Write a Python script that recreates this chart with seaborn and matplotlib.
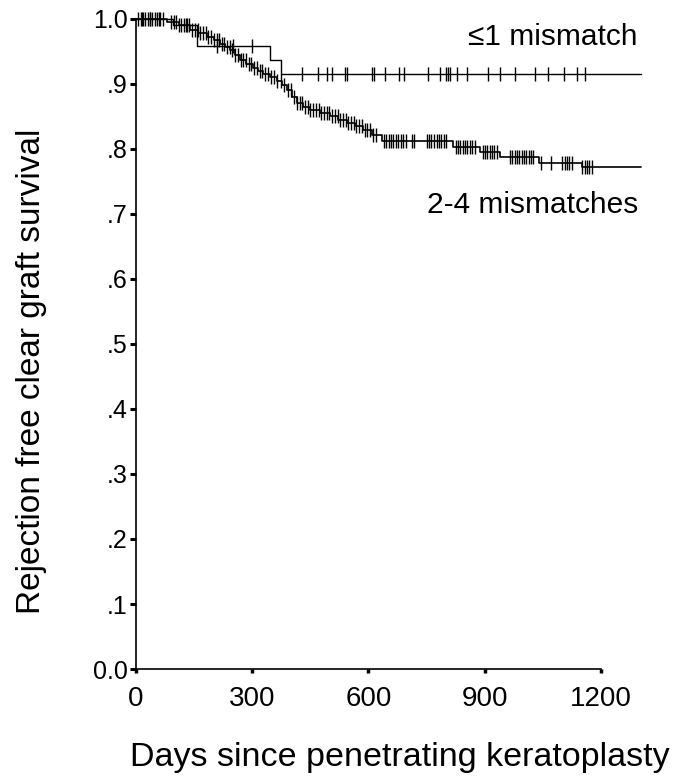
import numpy as np
import pandas as pd
import matplotlib
matplotlib.use("Agg")
import matplotlib.pyplot as plt
import seaborn as sns

# step curves (day, survival after the step)
days_low = [0, 95, 157, 346, 373]
surv_low = [1.0, 0.99, 0.959, 0.937, 0.915]
cens_low = [15, 35, 60, 130, 210, 250, 300, 429, 470, 494, 507, 539, 545, 608, 614,
            642, 680, 691, 754, 785, 799, 804, 810, 829, 855, 909, 939, 978, 1030,
            1064, 1105, 1137, 1160]
end_low = 1303

days_high = [0, 80, 110, 139, 160, 182, 200, 217, 230, 243, 256, 268, 285, 303, 316,
             329, 346, 363, 376, 389, 402, 415, 432, 449, 475, 501, 522, 544, 565,
             587, 608, 635, 819, 888, 939, 1040, 1150]
surv_high = [1.0, 0.995, 0.99, 0.983, 0.978, 0.973, 0.967, 0.962, 0.957, 0.952, 0.945,
             0.937, 0.930, 0.924, 0.920, 0.916, 0.910, 0.904, 0.898, 0.891, 0.880,
             0.870, 0.865, 0.860, 0.855, 0.850, 0.845, 0.840, 0.835, 0.829, 0.822,
             0.812, 0.803, 0.796, 0.787, 0.779, 0.772]
cens_high = [6, 12, 18, 24, 30, 36, 42, 48, 55, 62, 69, 90, 97, 103, 110, 117, 124, 131,
             138, 145, 152, 159, 166, 173, 180, 187, 194, 201, 208, 214, 221, 228, 235,
             242, 249, 256, 263, 270, 277, 284, 291, 298, 305, 312, 319, 326, 333, 340,
             348, 356, 364, 373, 382, 392, 401, 408, 415, 422, 429, 436, 443, 450, 457,
             464, 471, 478, 485, 492, 499, 506, 513, 520, 527, 534, 541, 548, 555, 562,
             569, 576, 583, 590, 597, 604, 612, 620, 640, 646, 652, 658, 664, 670, 676,
             683, 690, 697, 712, 718, 750, 756, 762, 770, 776, 782, 788, 794, 800, 825,
             831, 837, 843, 849, 855, 861, 867, 876, 895, 901, 907, 913, 919, 925, 931,
             965, 971, 977, 983, 989, 995, 1001, 1007, 1013, 1019, 1025, 1045, 1070,
             1100, 1106, 1112, 1118, 1124, 1150, 1158, 1164, 1170, 1176]
end_high = 1303

y_ticks = [0.0, 0.1, 0.2, 0.3, 0.4, 0.5, 0.6, 0.7, 0.8, 0.9, 1.0]
y_labels = ["0.0", ".1", ".2", ".3", ".4", ".5", ".6", ".7", ".8", ".9", "1.0"]
x_ticks = [0, 300, 600, 900, 1200]


def curve_frame(days, surv, end):
    return pd.DataFrame({"day": days + [end], "surv": surv + [surv[-1]]})


def censor_frame(days, surv, cens):
    idx = np.searchsorted(days, cens, side="right") - 1
    return pd.DataFrame({"day": cens, "surv": np.array(surv)[idx]})


sns.set_style("ticks")
plt.rcParams["font.family"] = ["Liberation Sans", "DejaVu Sans"]
plt.rcParams.update({"text.color": "black", "axes.labelcolor": "black",
                     "axes.edgecolor": "black", "xtick.color": "black",
                     "ytick.color": "black"})

fig = plt.figure(figsize=(6.78, 7.81), dpi=100)
ax = fig.add_axes([0.2006, 0.1434, 0.7544, 0.8323])

for days, surv, cens, end, lw in [(days_low, surv_low, cens_low, end_low, 1.0),
                                  (days_high, surv_high, cens_high, end_high, 1.2)]:
    sns.lineplot(data=curve_frame(days, surv, end), x="day", y="surv", ax=ax,
                 drawstyle="steps-post", color="black", lw=lw, estimator=None,
                 clip_on=False)
    sns.scatterplot(data=censor_frame(days, surv, cens), x="day", y="surv", ax=ax,
                    marker="|", s=90, color="black", linewidth=1.0, clip_on=False)

ax.set_xlim(0, 1320)
ax.set_ylim(0, 1.0)
ax.set_xticks(x_ticks)
ax.set_yticks(y_ticks)
ax.set_yticklabels(y_labels)
ax.spines["top"].set_visible(False)
ax.spines["right"].set_visible(False)
ax.spines["bottom"].set_bounds(0, 1200)
ax.spines["left"].set_linewidth(1.2)
ax.spines["bottom"].set_linewidth(1.2)
ax.tick_params(axis="y", length=4, width=2.2, labelsize=18, pad=2)
ax.tick_params(axis="x", length=3, width=2.5, labelsize=20, pad=9)

ax.set_xlabel("Days since penetrating keratoplasty", fontsize=24.5)
ax.set_ylabel("Rejection free clear graft survival", fontsize=24)
ax.xaxis.set_label_coords(0.516, -0.113)
ax.yaxis.set_label_coords(-0.174, 0.458)

ax.text(1295, 0.972, "\u22641 mismatch", fontsize=21.5, ha="right", va="center")
ax.text(1295, 0.714, "2-4 mismatches", fontsize=21.5, ha="right", va="center")

fig.savefig("out.png", dpi=100)
